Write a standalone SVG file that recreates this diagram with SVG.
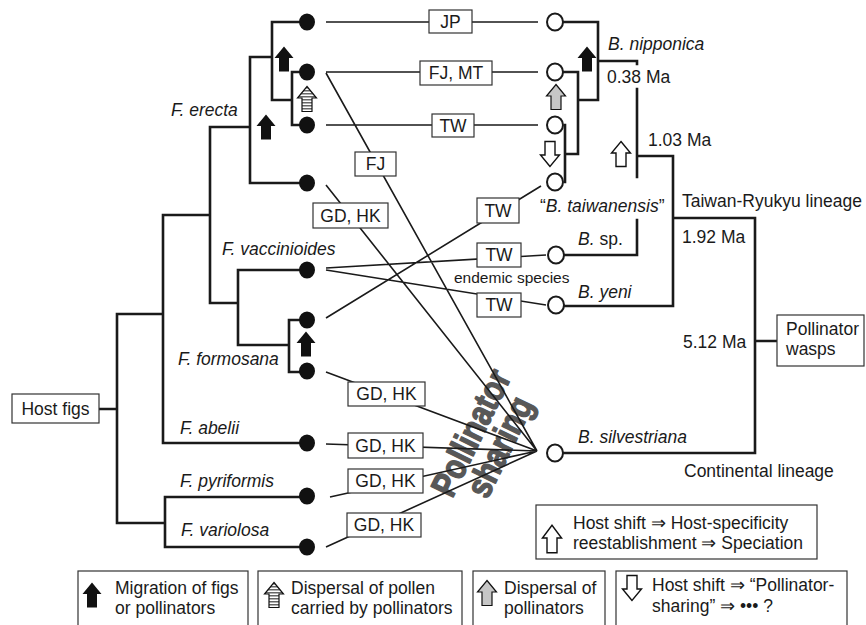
<svg xmlns="http://www.w3.org/2000/svg" width="866" height="625" viewBox="0 0 866 625">
<defs>
<style>
.t{font-family:"Liberation Sans",Arial,sans-serif;font-size:17.5px;fill:#1a1a1a}
.s{font-size:15.5px}
.i{font-style:italic}
.m{text-anchor:middle}
.tree{fill:none;stroke:#1a1a1a;stroke-width:2.6;stroke-linecap:square}
.con{fill:none;stroke:#1a1a1a;stroke-width:1.6}
.box{fill:#fff;stroke:#333;stroke-width:1.2}
.fig{fill:#111}
.pol{fill:#fff;stroke:#1a1a1a;stroke-width:2}
.ab{fill:#111}
.ag{fill:#c6c6c6;stroke:#111;stroke-width:1.2}
.ah{fill:#fff;stroke:#111;stroke-width:1.4}
.as{fill:url(#stripes);stroke:#111;stroke-width:1.2}
.ps{font-family:"Liberation Sans Narrow","Liberation Sans",Arial,sans-serif;font-weight:bold;font-size:36px;fill:#585858;stroke:#585858;stroke-width:1.4;stroke-linejoin:round;text-anchor:middle}
</style>
<pattern id="stripes" patternUnits="userSpaceOnUse" width="4" height="3"><rect width="4" height="3" fill="#fff"/><rect width="4" height="1.5" fill="#666"/></pattern>
<path id="arr" d="M0,-12.5 L9.5,-1 L5,-1 L5,12.5 L-5,12.5 L-5,-1 L-9.5,-1 Z"/>
</defs>
<rect width="866" height="625" fill="#fff"/>

<g id="pollinator-sharing-label">
<g transform="translate(482,438) rotate(-64)">
<text class="ps" x="0" y="0" textLength="136" lengthAdjust="spacingAndGlyphs">Pollinator</text>
<text class="ps" x="0" y="32" textLength="107" lengthAdjust="spacingAndGlyphs">sharing</text>
</g>
</g>

<g id="fig-tree">
<path class="tree" d="M99,409 H117 M117,314 V523 M117,314 H163 M117,523 H165 M165,497 V547 M165,497 H307 M165,547 H307 M163,215 V443 M163,443 H307 M163,215 H210 M210,127 V303 M210,303 H238 M238,270 V345 M238,270 H307 M238,345 H289 M289,320 V372 M289,320 H307 M289,372 H307 M210,127 H250 M250,57 V183 M250,183 H307 M250,57 H272 M272,22 V100 M272,22 H307 M272,100 H292 M292,72 V125 M292,72 H307 M292,125 H307"/>
</g>

<g id="pollinator-tree">
<path class="tree" d="M563,22 H598 M598,22 V100 M578,100 H598 M563,72 H578 M578,72 V154 M565,154 H578 M565,125 V182 M598,61 H637 V64 M637,89 V177 M637,220 V255 M563,255 H637 M637,156 H673 M673,156 V306 M563,306 H673 M673,218 H755 M755,218 V453 M563,453 H755 M755,341 H777"/>
</g>

<g id="connectors">
<path class="con" d="M326,22 H538 M326,72 H538 M326,125 H538 M326,73 L537,451 M326,185 L537,451 M326,318 L541,186 M326,268 L546,255 M326,270 L546,305 M326,372 L537,451 M326,444 L537,451 M330,497 L537,451 M326,547 L537,451"/>
</g>

<g id="fig-nodes">
<ellipse class="fig" cx="307" cy="22" rx="8" ry="8.6"/>
<ellipse class="fig" cx="307" cy="72" rx="8" ry="8.6"/>
<ellipse class="fig" cx="307" cy="125" rx="8" ry="8.6"/>
<ellipse class="fig" cx="307" cy="183" rx="8" ry="8.6"/>
<ellipse class="fig" cx="307" cy="270" rx="8" ry="8.6"/>
<ellipse class="fig" cx="307" cy="320" rx="8" ry="8.6"/>
<ellipse class="fig" cx="307" cy="371" rx="8" ry="8.6"/>
<ellipse class="fig" cx="307" cy="443" rx="8" ry="8.6"/>
<ellipse class="fig" cx="307" cy="496" rx="8" ry="8.6"/>
<ellipse class="fig" cx="307" cy="547" rx="8" ry="8.6"/>
</g>

<g id="pollinator-nodes">
<ellipse class="pol" cx="555" cy="22" rx="8" ry="8.5"/>
<ellipse class="pol" cx="555" cy="72" rx="8" ry="8.5"/>
<ellipse class="pol" cx="555" cy="125" rx="8" ry="8.5"/>
<ellipse class="pol" cx="555" cy="182" rx="8" ry="8.5"/>
<ellipse class="pol" cx="556" cy="255" rx="8" ry="8.5"/>
<ellipse class="pol" cx="556" cy="305" rx="8" ry="8.5"/>
<ellipse class="pol" cx="555" cy="453" rx="8" ry="8.5"/>
</g>

<g id="region-boxes">
<g id="b-jp"><rect class="box" x="429" y="10" width="43" height="23"/><text class="t m" x="450.5" y="28">JP</text></g>
<g id="b-fjmt"><rect class="box" x="420" y="61" width="72" height="24"/><text class="t m" x="456" y="79">FJ, MT</text></g>
<g id="b-tw1"><rect class="box" x="432" y="114" width="42" height="23"/><text class="t m" x="453" y="132">TW</text></g>
<g id="b-fj"><rect class="box" x="355" y="152" width="41" height="24"/><text class="t m" x="375.5" y="170">FJ</text></g>
<g id="b-gdhk1"><rect class="box" x="313" y="203" width="75" height="25"/><text class="t m" x="350.5" y="222">GD, HK</text></g>
<g id="b-tw2"><rect class="box" x="477" y="198" width="42" height="25"/><text class="t m" x="498" y="217">TW</text></g>
<g id="b-tw3"><rect class="box" x="477" y="243" width="44" height="24"/><text class="t m" x="499" y="261">TW</text></g>
<g id="b-tw4"><rect class="box" x="477" y="293" width="44" height="24"/><text class="t m" x="499" y="311">TW</text></g>
<g id="b-gdhk2"><rect class="box" x="348" y="382" width="77" height="24"/><text class="t m" x="386.5" y="400">GD, HK</text></g>
<g id="b-gdhk3"><rect class="box" x="348" y="433" width="75" height="25"/><text class="t m" x="385.5" y="452">GD, HK</text></g>
<g id="b-gdhk4"><rect class="box" x="348" y="469" width="75" height="24"/><text class="t m" x="385.5" y="487">GD, HK</text></g>
<g id="b-gdhk5"><rect class="box" x="347" y="513" width="74" height="24"/><text class="t m" x="384" y="531">GD, HK</text></g>
</g>

<g id="host-figs"><rect class="box" x="12" y="394" width="87" height="29"/><text class="t m" x="55.5" y="415">Host figs</text></g>
<g id="pollinator-wasps"><rect class="box" x="777" y="315" width="87" height="51"/><text class="t" x="786" y="335">Pollinator</text><text class="t" x="786" y="355">wasps</text></g>

<g id="fig-labels">
<text class="t i" x="171" y="116">F. erecta</text>
<text class="t i" x="222" y="255">F. vaccinioides</text>
<text class="t i" x="178" y="365">F. formosana</text>
<text class="t i" x="180" y="434">F. abelii</text>
<text class="t i" x="180" y="487">F. pyriformis</text>
<text class="t i" x="181" y="536">F. variolosa</text>
</g>

<g id="pollinator-labels">
<text class="t i" x="608" y="50">B. nipponica</text>
<text class="t" x="607" y="83">0.38 Ma</text>
<text class="t" x="648" y="146">1.03 Ma</text>
<text class="t" x="540" y="212">“<tspan class="i">B. taiwanensis</tspan>”</text>
<text class="t" x="682" y="207">Taiwan-Ryukyu lineage</text>
<text class="t" x="682" y="243">1.92 Ma</text>
<text class="t" x="578" y="245"><tspan class="i">B.</tspan> sp.</text>
<text class="t s" x="454" y="283">endemic species</text>
<text class="t i" x="578" y="298">B. yeni</text>
<text class="t" x="683" y="348">5.12 Ma</text>
<text class="t i" x="578" y="443">B. silvestriana</text>
<text class="t" x="684" y="477">Continental lineage</text>
</g>

<g id="arrows">
<use href="#arr" class="ab" transform="translate(284,59)"/>
<use href="#arr" class="ab" transform="translate(266,127)"/>
<use href="#arr" class="as" transform="translate(307,99)"/>
<use href="#arr" class="ab" transform="translate(306,344)"/>
<use href="#arr" class="ab" transform="translate(587,59)"/>
<use href="#arr" class="ag" transform="translate(556,97)"/>
<use href="#arr" class="ah" transform="translate(550,154) rotate(180)"/>
<use href="#arr" class="ah" transform="translate(621,154)"/>
</g>

<g id="legend-host-shift">
<rect class="box" x="536" y="505" width="281" height="54"/>
<use href="#arr" class="ah" transform="translate(552,539) scale(1,1.1)"/>
<text class="t" x="573" y="529">Host shift ⇒ Host-specificity</text>
<text class="t" x="573" y="549">reestablishment ⇒ Speciation</text>
</g>

<g id="legend-migration">
<rect class="box" x="78" y="571" width="170" height="60"/>
<use href="#arr" class="ab" transform="translate(92,595)"/>
<text class="t" x="115" y="594">Migration of figs</text>
<text class="t" x="115" y="614">or pollinators</text>
</g>
<g id="legend-pollen">
<rect class="box" x="258" y="571" width="204" height="60"/>
<use href="#arr" class="as" transform="translate(274,595)"/>
<text class="t" x="291" y="594">Dispersal of pollen</text>
<text class="t" x="291" y="614">carried by pollinators</text>
</g>
<g id="legend-dispersal">
<rect class="box" x="473" y="571" width="132" height="60"/>
<use href="#arr" class="ag" transform="translate(487,593)"/>
<text class="t" x="504" y="594">Dispersal of</text>
<text class="t" x="504" y="614">pollinators</text>
</g>
<g id="legend-sharing">
<rect class="box" x="616" y="571" width="231" height="60"/>
<use href="#arr" class="ah" transform="translate(632,588) rotate(180)"/>
<text class="t" x="652" y="591">Host shift ⇒ “Pollinator-</text>
<text class="t" x="652" y="612">sharing” ⇒ ••• ?</text>
</g>
</svg>
